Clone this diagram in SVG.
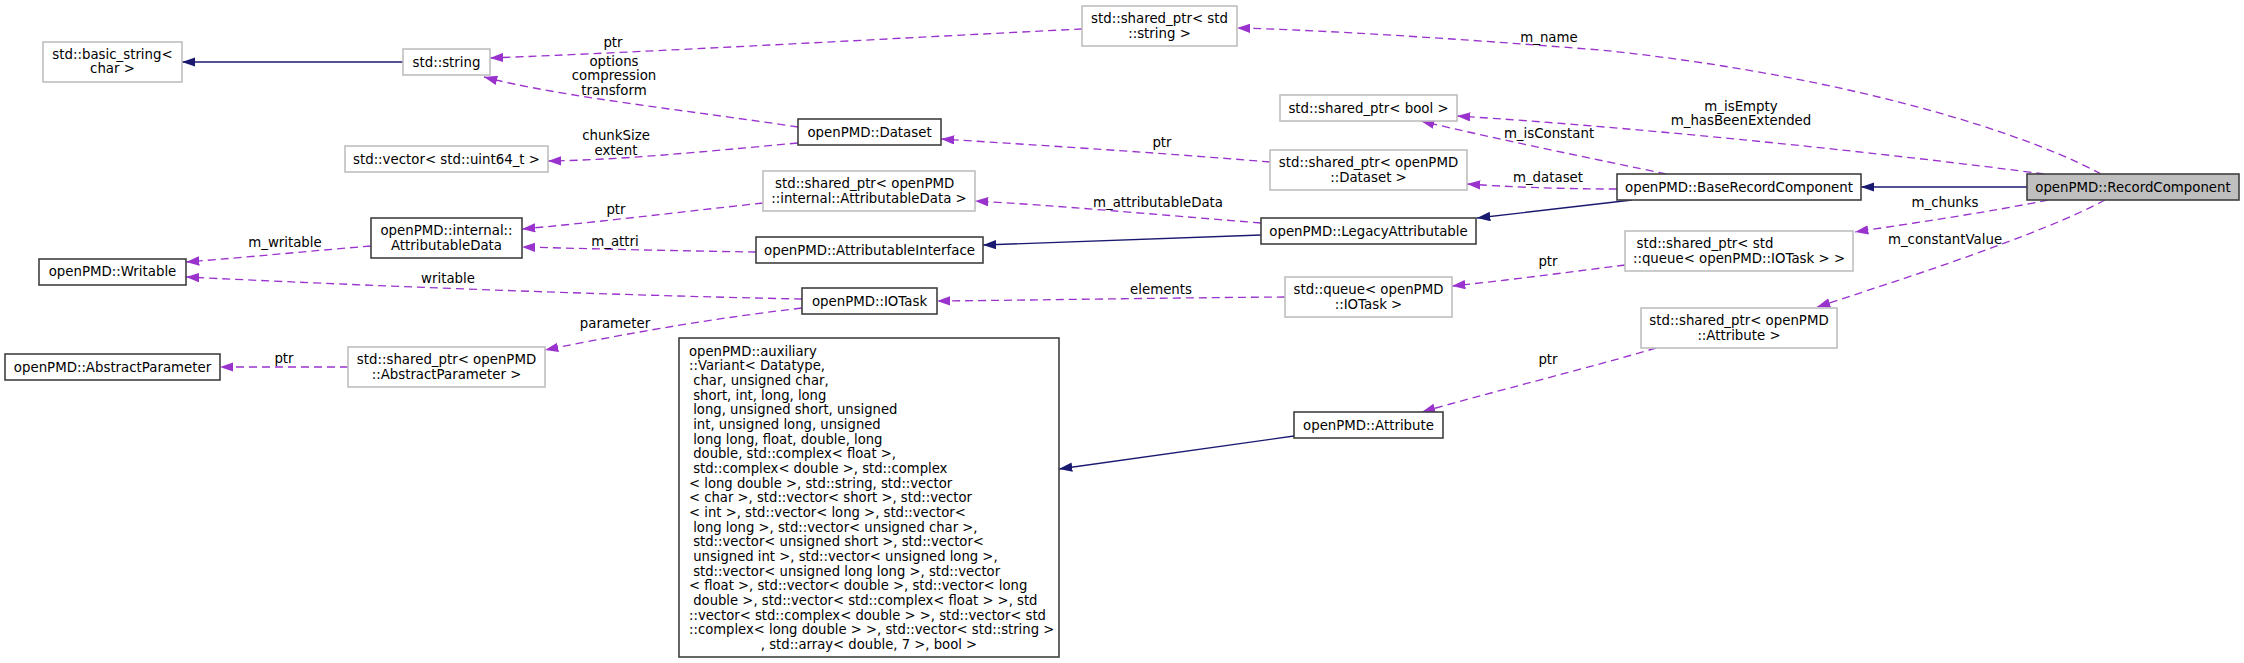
<svg xmlns="http://www.w3.org/2000/svg" width="2244" height="663" viewBox="0 0 2244 663">
<style>
text{font-family:"DejaVu Sans","Liberation Sans",sans-serif;font-size:13.33px;fill:#000}
.c{text-anchor:middle}
.s{text-anchor:start}
.v{font-size:13.2px}
.n{fill:#fff;stroke:#404040;stroke-width:1.6}
.u{fill:#fff;stroke:#bfbfbf;stroke-width:1.6}
.m{fill:#bfbfbf;stroke:#404040;stroke-width:1.6}
.e{fill:none;stroke:#9a32cd;stroke-width:1.33;stroke-dasharray:8,5;marker-end:url(#ap)}
.i{fill:none;stroke:#191970;stroke-width:1.33;marker-end:url(#ai)}
</style>
<defs>
<marker id="ap" viewBox="0 0 13.3 9.4" refX="13.3" refY="4.7" markerWidth="13.3" markerHeight="9.4" markerUnits="userSpaceOnUse" orient="auto"><path d="M0,0 L13.3,4.7 L0,9.4 z" fill="#9a32cd"/></marker>
<marker id="ai" viewBox="0 0 13.3 9.4" refX="13.3" refY="4.7" markerWidth="13.3" markerHeight="9.4" markerUnits="userSpaceOnUse" orient="auto"><path d="M0,0 L13.3,4.7 L0,9.4 z" fill="#191970"/></marker>
</defs>
<rect width="2244" height="663" fill="#fff"/>
<g id="edges">
<path class="i" d="M403,62 L182,62"/>
<path class="e" d="M1082,29 C900,38 650,52 490,58"/>
<text class="c" x="613" y="46.5">ptr</text>
<path class="e" d="M798,127 C700,112 560,97 484,77"/>
<text class="c" x="614" y="65.5">options</text>
<text class="c" x="614" y="80">compression</text>
<text class="c" x="614" y="94.5">transform</text>
<path class="e" d="M798,143 C700,152 620,160 548,161"/>
<text class="c" x="616" y="139.5">chunkSize</text>
<text class="c" x="616" y="154.5">extent</text>
<path class="e" d="M1270,162 C1150,152 1020,144 941,139"/>
<text class="c" x="1162" y="146.5">ptr</text>
<path class="e" d="M763,203 C680,212 600,222 522,229"/>
<text class="c" x="616" y="213.5">ptr</text>
<path class="e" d="M756,252 C680,251 600,249 522,247"/>
<text class="c" x="615" y="245.5">m_attri</text>
<path class="e" d="M371,246 C310,251 250,257 186,262"/>
<text class="c" x="285" y="246.5">m_writable</text>
<path class="e" d="M802,299 C600,295 350,285 186,277"/>
<text class="c" x="448" y="282.5">writable</text>
<path class="e" d="M802,308 C700,320 620,335 545,350"/>
<text class="c" x="615" y="327.5">parameter</text>
<path class="e" d="M348,367 L220,367"/>
<text class="c" x="284" y="362.5">ptr</text>
<path class="e" d="M1285,297 C1150,298 1050,300 937,301"/>
<text class="c" x="1161" y="293.5">elements</text>
<path class="e" d="M1625,265 C1570,272 1510,280 1452,286"/>
<text class="c" x="1548" y="265.5">ptr</text>
<path class="e" d="M1261,223 C1150,214 1050,205 975,201"/>
<text class="c" x="1158" y="206.5">m_attributableData</text>
<path class="i" d="M1261,235 C1150,239 1050,243 983,245"/>
<path class="i" d="M1632,200 L1477,218"/>
<path class="e" d="M1666,174 C1600,160 1500,140 1421,121"/>
<text class="c" x="1549" y="137.5">m_isConstant</text>
<path class="e" d="M1617,189 C1560,189 1510,187 1467,184"/>
<text class="c" x="1548" y="181.5">m_dataset</text>
<path class="i" d="M2027,187 L1861,187"/>
<path class="e" d="M2101,174 C2000,120 1800,70 1600,50 C1450,38 1320,30 1237,28"/>
<text class="c" x="1549" y="41.5">m_name</text>
<path class="e" d="M2044,174 C1900,155 1650,128 1457,116"/>
<text class="c" x="1741" y="110.5">m_isEmpty</text>
<text class="c" x="1741" y="125">m_hasBeenExtended</text>
<path class="e" d="M2048,200 C1990,212 1920,222 1855,232"/>
<text class="c" x="1945" y="206.5">m_chunks</text>
<path class="e" d="M2105,200 C2040,235 1900,280 1817,307"/>
<text class="c" x="1945" y="243.5">m_constantValue</text>
<path class="e" d="M1656,348 C1600,365 1480,395 1422,412"/>
<text class="c" x="1548" y="363.5">ptr</text>
<path class="i" d="M1294,436 L1059,469"/>
</g>
<g id="RecordComponent"><rect class="m" x="2027" y="174" width="212" height="26"/><text class="c" x="2133" y="191.5">openPMD::RecordComponent</text></g>
<g id="BaseRecordComponent"><rect class="n" x="1617" y="174" width="244" height="26"/><text class="c" x="1739" y="191.5">openPMD::BaseRecordComponent</text></g>
<g id="sp_string"><rect class="u" x="1082" y="6" width="155" height="40"/><text class="c" x="1159.5" y="23">std::shared_ptr&lt; std</text><text class="c" x="1159.5" y="37.5">::string &gt;</text></g>
<g id="sp_bool"><rect class="u" x="1280" y="95" width="177" height="26"/><text class="c" x="1368.5" y="112.5">std::shared_ptr&lt; bool &gt;</text></g>
<g id="sp_dataset"><rect class="u" x="1270" y="150" width="197" height="40"/><text class="c" x="1368.5" y="167">std::shared_ptr&lt; openPMD</text><text class="c" x="1368.5" y="181.5">::Dataset &gt;</text></g>
<g id="LegacyAttributable"><rect class="n" x="1261" y="218" width="215" height="26"/><text class="c" x="1368.5" y="235.5">openPMD::LegacyAttributable</text></g>
<g id="sp_queue"><rect class="u" x="1625" y="231" width="228" height="40"/><text class="s" x="1636.5" y="248">std::shared_ptr&lt; std</text><text class="c" x="1739" y="262.5">::queue&lt; openPMD::IOTask &gt; &gt;</text></g>
<g id="queue"><rect class="u" x="1285" y="277" width="167" height="40"/><text class="c" x="1368.5" y="294">std::queue&lt; openPMD</text><text class="c" x="1368.5" y="308.5">::IOTask &gt;</text></g>
<g id="sp_attribute"><rect class="u" x="1641" y="308" width="196" height="40"/><text class="c" x="1739" y="325">std::shared_ptr&lt; openPMD</text><text class="c" x="1739" y="339.5">::Attribute &gt;</text></g>
<g id="Attribute"><rect class="n" x="1294" y="412" width="149" height="26"/><text class="c" x="1368.5" y="429.5">openPMD::Attribute</text></g>
<g id="Variant"><rect class="n" x="679" y="338" width="380" height="319"/>
<text class="s v" xml:space="preserve" x="689">
<tspan x="689" y="355.5">openPMD::auxiliary</tspan>
<tspan x="689" y="370.2">::Variant&lt; Datatype,</tspan>
<tspan x="689" y="384.8"> char, unsigned char,</tspan>
<tspan x="689" y="399.5"> short, int, long, long</tspan>
<tspan x="689" y="414.2"> long, unsigned short, unsigned</tspan>
<tspan x="689" y="428.8"> int, unsigned long, unsigned</tspan>
<tspan x="689" y="443.5"> long long, float, double, long</tspan>
<tspan x="689" y="458.2"> double, std::complex&lt; float &gt;,</tspan>
<tspan x="689" y="472.9"> std::complex&lt; double &gt;, std::complex</tspan>
<tspan x="689" y="487.5">&lt; long double &gt;, std::string, std::vector</tspan>
<tspan x="689" y="502.2">&lt; char &gt;, std::vector&lt; short &gt;, std::vector</tspan>
<tspan x="689" y="516.9">&lt; int &gt;, std::vector&lt; long &gt;, std::vector&lt;</tspan>
<tspan x="689" y="531.5"> long long &gt;, std::vector&lt; unsigned char &gt;,</tspan>
<tspan x="689" y="546.2"> std::vector&lt; unsigned short &gt;, std::vector&lt;</tspan>
<tspan x="689" y="560.9"> unsigned int &gt;, std::vector&lt; unsigned long &gt;,</tspan>
<tspan x="689" y="575.5"> std::vector&lt; unsigned long long &gt;, std::vector</tspan>
<tspan x="689" y="590.2">&lt; float &gt;, std::vector&lt; double &gt;, std::vector&lt; long</tspan>
<tspan x="689" y="604.9"> double &gt;, std::vector&lt; std::complex&lt; float &gt; &gt;, std</tspan>
<tspan x="689" y="619.5">::vector&lt; std::complex&lt; double &gt; &gt;, std::vector&lt; std</tspan>
<tspan x="689" y="634.2">::complex&lt; long double &gt; &gt;, std::vector&lt; std::string &gt;</tspan>
</text>
<text class="c v" x="869" y="648.9">, std::array&lt; double, 7 &gt;, bool &gt;</text></g>
<g id="Dataset"><rect class="n" x="798" y="119" width="143" height="26"/><text class="c" x="869.5" y="136.5">openPMD::Dataset</text></g>
<g id="sp_attrdata"><rect class="u" x="763" y="171" width="212" height="40"/><text class="s" x="775" y="188">std::shared_ptr&lt; openPMD</text><text class="c" x="869" y="202.5">::internal::AttributableData &gt;</text></g>
<g id="AttributableInterface"><rect class="n" x="756" y="237" width="227" height="26"/><text class="c" x="869.5" y="254.5">openPMD::AttributableInterface</text></g>
<g id="IOTask"><rect class="n" x="802" y="288" width="135" height="26"/><text class="c" x="869.5" y="305.5">openPMD::IOTask</text></g>
<g id="string"><rect class="u" x="403" y="49" width="87" height="26"/><text class="c" x="446.5" y="66.5">std::string</text></g>
<g id="basic_string"><rect class="u" x="43" y="42" width="139" height="40"/><text class="c" x="112.5" y="58.5">std::basic_string&lt;</text><text class="c" x="112.5" y="73">char &gt;</text></g>
<g id="vector"><rect class="u" x="345" y="146" width="203" height="26"/><text class="c" x="446.5" y="163.5">std::vector&lt; std::uint64_t &gt;</text></g>
<g id="AttributableData"><rect class="n" x="371" y="218" width="151" height="40"/><text class="c" x="446.5" y="235">openPMD::internal::</text><text class="c" x="446.5" y="249.5">AttributableData</text></g>
<g id="Writable"><rect class="n" x="39" y="259" width="147" height="26"/><text class="c" x="112.5" y="276">openPMD::Writable</text></g>
<g id="AbstractParameter"><rect class="n" x="5" y="354" width="215" height="26"/><text class="c" x="112.5" y="371.5">openPMD::AbstractParameter</text></g>
<g id="sp_abstractparam"><rect class="u" x="348" y="347" width="197" height="40"/><text class="c" x="446.5" y="364">std::shared_ptr&lt; openPMD</text><text class="c" x="446.5" y="378.5">::AbstractParameter &gt;</text></g>
</svg>
